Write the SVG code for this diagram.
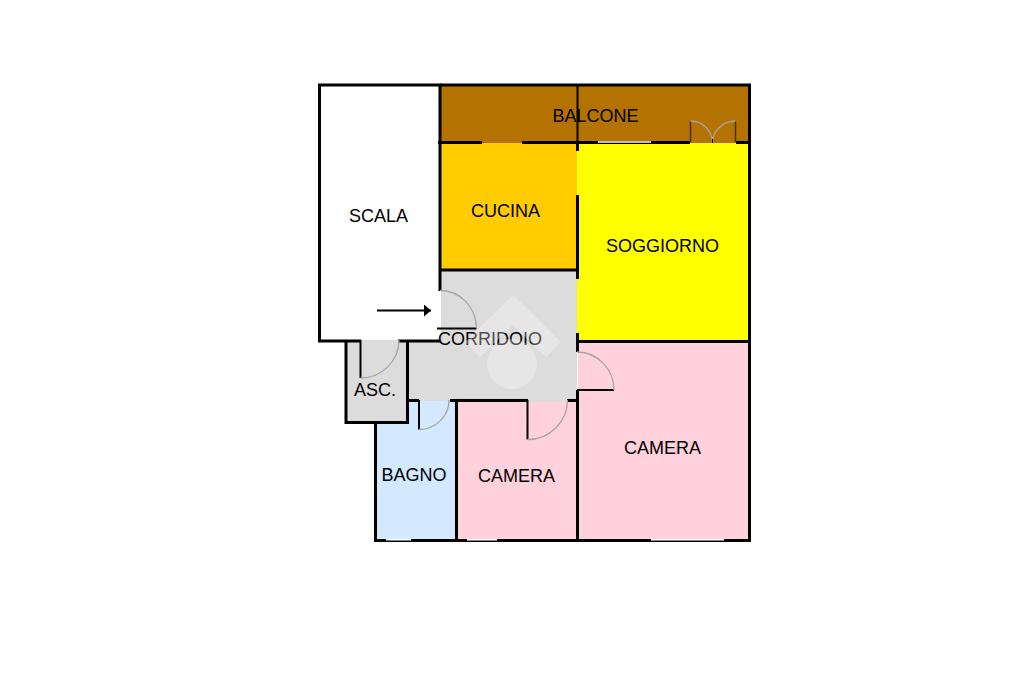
<svg xmlns="http://www.w3.org/2000/svg" width="1024" height="682" viewBox="0 0 1024 682">
<style>
.w{stroke:#000;stroke-width:3;fill:none;stroke-linecap:butt}
.a{stroke:#a8a4a4;stroke-width:1.3;fill:none}
.l{stroke:#000;stroke-width:2;fill:none}
.g{stroke:#fff;stroke-width:1.4;fill:none}
text{font-family:"Liberation Sans",Arial,sans-serif;font-size:18px;fill:#000;text-anchor:middle}
</style>
<defs><marker id="ah" markerUnits="userSpaceOnUse" markerWidth="8" markerHeight="12" refX="7" refY="6" orient="auto"><path d="M0 0L7 6L0 12Z" fill="#000"/></marker></defs>
<rect width="1024" height="682" fill="#fff"/>
<g id="rooms">
<rect x="320" y="85" width="120" height="256" fill="#fff"/>
<rect x="440" y="85" width="309" height="58" fill="#B47300"/>
<rect x="440" y="143" width="137" height="127" fill="#FFCC00"/>
<rect x="577" y="143" width="172" height="198" fill="#FFFF00"/>
<rect x="376" y="401" width="81" height="139" fill="#D3E9FF"/>
<path d="M441 271H577V401H408V341H441Z" fill="#DCDCDC"/>
<rect x="346" y="340" width="61" height="82" fill="#DCDCDC"/>
<path d="M457 401H577V540H457Z" fill="#FFD1DC"/>
<path d="M528 400H567V402H528Z" fill="#DCDCDC"/>
<path d="M578 341H749V540H578Z" fill="#FFD1DC"/>
</g>
<g id="walls">
<path class="w" d="M440 291V85H319.500V341H361M398 341H440M346 341V422.500H407.500V341"/>
<path class="w" d="M440 85H749.500V142M749.500 142V540.500H375.500V422"/>
<path class="w" d="M438 142.500H482M522 142.500H690M736 142.500H749"/>
<path class="l" d="M577.500 85V142"/>
<path class="w" d="M577.500 142V151M577.500 195V279M577.500 333V352M577.500 390V540"/>
<path class="w" d="M440 270H577M577 341.500H749"/>
<path class="w" d="M407 400.500H419M450 400.500H528M567 400.500H578M456.500 400V540"/>
</g>
<g id="windows">
<path class="g" d="M598 142H651M386 539.800H411M467 539.800H497M651 539.800H724"/>
</g>
<g id="doors">
<path class="l" d="M437 328.500H476.500"/>
<path class="a" d="M440 290.500A36.500 38 0 0 1 476.500 328.500"/>
<path class="l" d="M360.500 340V378"/>
<path class="a" d="M360.500 378A38.500 38 0 0 0 399 340"/>
<path class="l" d="M419 400V429.500"/>
<path class="a" d="M419 429.500A30 29.500 0 0 0 449 400"/>
<path class="l" d="M527.500 400V439.500"/>
<path class="a" d="M527.500 439.500A40 39.500 0 0 0 567.500 400"/>
<path class="l" d="M577 390H614"/>
<path class="a" d="M577 352A37 38 0 0 1 614 390"/>
<path d="M690.500 121V142M735.500 121V142" stroke="#4a2e00" stroke-width="1.500" fill="none"/>
<path class="a" d="M690.500 121A22 22 0 0 1 712.500 143M735.500 121A23 22 0 0 0 712.500 143"/>
<path d="M712.500 139V143" stroke="#000" stroke-width="1" fill="none"/>
</g>
<g id="entrance">
<path d="M377 310.500H431" stroke="#000" stroke-width="2" fill="none" marker-end="url(#ah)"/>
</g>
<g id="labels">
<text x="378.500" y="222">SCALA</text>
<text x="595.500" y="122">BALCONE</text>
<text x="505.500" y="217">CUCINA</text>
<text x="662.500" y="252">SOGGIORNO</text>
<text x="490" y="345">CORRIDOIO</text>
<text x="375" y="395.500">ASC.</text>
<text x="414" y="480.500">BAGNO</text>
<text x="516.500" y="481.500">CAMERA</text>
<text x="662.500" y="453.500">CAMERA</text>
</g>
<g id="watermark" fill="#fff" fill-opacity="0.3">
<path d="M513 295L561 342L546 357L513 325L480 357L465 342Z"/>
<circle cx="512" cy="364" r="25"/>
</g>
</svg>
